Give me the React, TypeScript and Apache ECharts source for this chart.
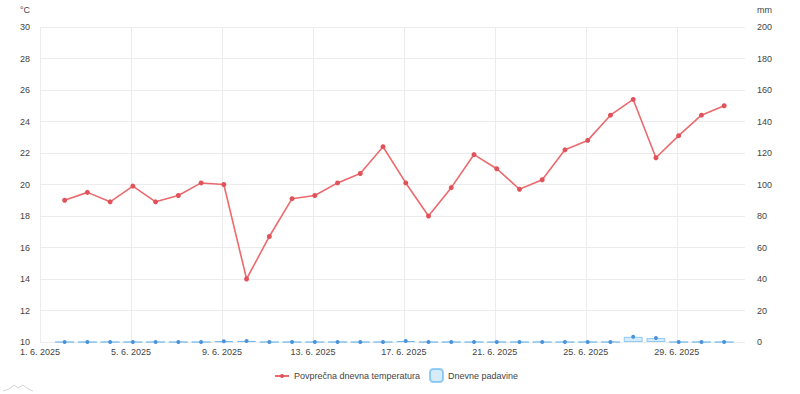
import React, { useEffect, useRef } from 'react';
import * as echarts from 'echarts';

// ---- data ----
const dates = [
  '2025-06-02', '2025-06-03', '2025-06-04', '2025-06-05', '2025-06-06',
  '2025-06-07', '2025-06-08', '2025-06-09', '2025-06-10', '2025-06-11',
  '2025-06-12', '2025-06-13', '2025-06-14', '2025-06-15', '2025-06-16',
  '2025-06-17', '2025-06-18', '2025-06-19', '2025-06-20', '2025-06-21',
  '2025-06-22', '2025-06-23', '2025-06-24', '2025-06-25', '2025-06-26',
  '2025-06-27', '2025-06-28', '2025-06-29', '2025-06-30', '2025-07-01',
];
const temperature = [
  19.0, 19.5, 18.9, 19.9, 18.9, 19.3, 20.1, 20.0, 14.0, 16.7,
  19.1, 19.3, 20.1, 20.7, 22.4, 20.1, 18.0, 19.8, 21.9, 21.0,
  19.7, 20.3, 22.2, 22.8, 24.4, 25.4, 21.7, 23.1, 24.4, 25.0,
];
const precipitation = [
  0, 0, 0, 0, 0, 0, 0, 0.5, 0.7, 0,
  0, 0, 0, 0, 0, 0.6, 0, 0, 0, 0,
  0, 0, 0, 0, 0, 3.3, 2.5, 0, 0, 0,
];
const seriesNames = ['Povprečna dnevna temperatura', 'Dnevne padavine'];
const tempUnit = '°C';
const rainUnit = 'mm';
const tempAxis = { min: 10, max: 30, interval: 2 };
const rainAxis = { min: 0, max: 200, interval: 20 };
const AXIS_START = '2025-06-01';
const AXIS_DAYS = 31;
const TICK_DAYS = 4;
const TZ_HOURS = 2; // local time (CEST) offset of the UTC timestamps

const DAY = 86400000;
const startMs = Date.parse(AXIS_START);
const toX = (d: string) => (Date.parse(d) - startMs) / DAY + TZ_HOURS / 24;
const fmtDate = (v: number) => {
  const d = new Date(startMs + v * DAY);
  return `${d.getUTCDate()}. ${d.getUTCMonth() + 1}. ${d.getUTCFullYear()}`;
};

const FONT = '"Liberation Sans", Arial, sans-serif';
const TEXT = '#444444';
const GRID = '#ececec';
const RED = '#ec6a6d';
const RED_DOT = '#e2525a';
const BLUE_FILL = 'rgba(54,162,235,0.2)';
const BLUE_LINE = 'rgba(54,162,235,0.5)';
const BLUE_DOT = '#4a93da';

export default function App() {
  const ref = useRef<HTMLDivElement>(null);
  useEffect(() => {
    if (!ref.current) return;
    const chart = echarts.init(ref.current, undefined, { renderer: 'svg' });
    const legendText = { fontSize: 9, color: TEXT, fontFamily: FONT };
    chart.setOption({
      animation: false,
      backgroundColor: '#ffffff',
      textStyle: { fontFamily: FONT },
      grid: { left: 40, right: 55, top: 27, bottom: 52, outerBoundsMode: 'none' },
      legend: [
        {
          left: 274,
          top: 371.5,
          padding: 0,
          itemWidth: 14,
          itemHeight: 5,
          textStyle: legendText,
          data: [{ name: seriesNames[0] }],
        },
        {
          left: 429,
          top: 368,
          padding: 0,
          itemWidth: 13,
          itemHeight: 13,
          textStyle: legendText,
          data: [{ name: seriesNames[1], icon: 'roundRect' }],
        },
      ],
      graphic: [
        { type: 'text', left: 20, top: 5, style: { text: tempUnit, fill: TEXT, font: `9px ${FONT}` } },
        { type: 'text', left: 757, top: 5, style: { text: rainUnit, fill: TEXT, font: `9px ${FONT}` } },
        {
          type: 'polyline', silent: true,
          shape: { points: [[3, 391], [9, 389], [14, 385], [18, 388], [23, 385], [28, 389], [33, 391]] },
          style: { stroke: '#d4d4d4', fill: 'none', lineWidth: 1 },
        },
      ],
      xAxis: {
        type: 'value',
        min: 0,
        max: AXIS_DAYS,
        interval: TICK_DAYS,
        axisLine: { show: false },
        axisTick: { show: false },
        axisLabel: {
          margin: 5,
          fontSize: 9,
          color: TEXT,
          fontFamily: FONT,
          showMaxLabel: false,
          formatter: (v: number) => (v % TICK_DAYS === 0 && v < AXIS_DAYS ? fmtDate(v) : ''),
        },
        splitLine: { show: true, showMaxLine: false, lineStyle: { color: GRID, width: 1 } },
      },
      yAxis: [
        {
          type: 'value',
          position: 'left',
          ...tempAxis,
          axisLine: { show: false },
          axisTick: { show: false },
          axisLabel: { margin: 10, fontSize: 9, color: TEXT, fontFamily: FONT },
          splitLine: { show: true, lineStyle: { color: GRID, width: 1 } },
        },
        {
          type: 'value',
          position: 'right',
          ...rainAxis,
          axisLine: { show: false },
          axisTick: { show: false },
          axisLabel: { margin: 12, fontSize: 9, color: TEXT, fontFamily: FONT },
          splitLine: { show: false },
        },
      ],
      series: [
        {
          name: seriesNames[1],
          type: 'bar',
          yAxisIndex: 1,
          barWidth: 19,
          itemStyle: { color: BLUE_FILL, borderColor: BLUE_LINE, borderWidth: 1 },
          data: dates.map((d, i) => [toX(d), precipitation[i]]),
          z: 2,
        },
        {
          name: 'padavine-tocke',
          type: 'line',
          yAxisIndex: 1,
          symbol: 'circle',
          symbolSize: 4,
          showSymbol: true,
          lineStyle: { width: 0, opacity: 0 },
          itemStyle: { color: BLUE_DOT },
          data: dates.map((d, i) => [toX(d), precipitation[i]]),
          z: 3,
        },
        {
          name: seriesNames[0],
          type: 'line',
          yAxisIndex: 0,
          symbol: 'circle',
          symbolSize: 5,
          showSymbol: true,
          lineStyle: { color: RED, width: 1.6 },
          itemStyle: { color: RED_DOT },
          data: dates.map((d, i) => [toX(d), temperature[i]]),
          z: 4,
        },
      ],
    });
    return () => chart.dispose();
  }, []);
  return (
    <div
      ref={ref}
      style={{ position: 'fixed', left: 0, top: 0, width: 800, height: 394 }}
    />
  );
}
